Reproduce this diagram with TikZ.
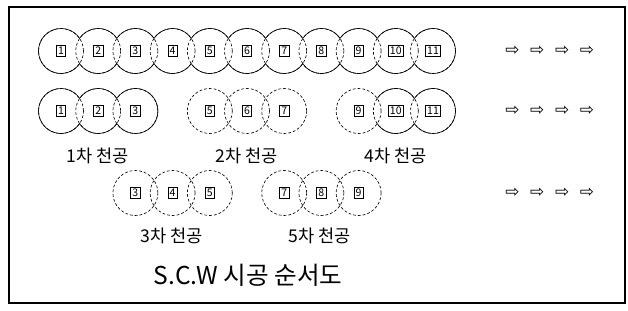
\documentclass[tikz,border=0pt]{standalone}
\usepackage{fontspec}
\newfontfamily\kr{Noto Sans CJK KR}
\newfontfamily\sym{DejaVu Sans}
\usepackage{tikz}
\usetikzlibrary{positioning,calc}

\begin{document}
\begin{tikzpicture}[x=0.025cm,y=0.025cm,font=\kr,
   pile/.style={line width=0.45pt},
   dsh/.style={line width=0.45pt,dash pattern=on 2pt off 1.4pt},
   num/.style={draw,line width=0.45pt,inner xsep=1.3pt,inner ysep=1.1pt,font=\kr\fontsize{7.5}{8}\selectfont},
   caplab/.style={font=\kr\fontsize{12.5}{14}\selectfont},
   arw/.style={font=\sym\fontsize{12}{13}\selectfont,inner sep=0pt}]
  \useasboundingbox (0,0) rectangle (628,310);
  \draw[line width=0.9pt] (9,7) rectangle (625,303);
  % row 1: all eleven piles
  \foreach \i in {1,...,11} \draw[dsh] ({61+37.2*(\i-1)},259) circle (22.5);
  \draw[pile] (61,259) ++(34:22.5) arc (34:326:22.5);
  \foreach \i in {2,...,10} {
    \draw[pile] ({61+37.2*(\i-1)},259) ++(34:22.5) arc (34:146:22.5);
    \draw[pile] ({61+37.2*(\i-1)},259) ++(214:22.5) arc (214:326:22.5);
  }
  \draw[pile] (433,259) ++(-146:22.5) arc (-146:146:22.5);
  \foreach \i in {1,...,11} \node[num] (a\i) at ({61+37.2*(\i-1)},259) {\i};
  % row 2: 1st, 2nd and 4th
  \foreach \i in {1,2,3,5,6,7,9,10,11} \draw[dsh] ({61+37.2*(\i-1)},199) circle (22.5);
  \draw[pile] (61,199) ++(34:22.5) arc (34:326:22.5);
  \foreach \i in {2,10} {
    \draw[pile] ({61+37.2*(\i-1)},199) ++(34:22.5) arc (34:146:22.5);
    \draw[pile] ({61+37.2*(\i-1)},199) ++(214:22.5) arc (214:326:22.5);
  }
  \foreach \i in {3,11} \draw[pile] ({61+37.2*(\i-1)},199) ++(-146:22.5) arc (-146:146:22.5);
  \foreach \i in {1,2,3,5,6,7,9,10,11} \node[num] (b\i) at ({61+37.2*(\i-1)},199) {\i};
  % row 3: 3rd and 5th
  \foreach \i in {3,4,5,7,8,9} {
    \draw[dsh] ({61+37.2*(\i-1)},117) circle (22.5);
    \node[num] (c\i) at ({61+37.2*(\i-1)},117) {\i};
  }
  % arrows
  \foreach \y/\r in {259/a,199/b,117/c}
    \foreach \k in {1,...,4}
      \node[arw] (\r arw\k) at ({512.5+24.8*(\k-1)},\y) {⇨};
  % labels
  \node[caplab] (lab1) at (98,154) {1차 천공};
  \node[caplab] (lab2) at (247,154) {2차 천공};
  \node[caplab] (lab4) at (396,154) {4차 천공};
  \node[caplab] (lab3) at (172,74) {3차 천공};
  \node[caplab] (lab5) at (320,74) {5차 천공};
  \node[font=\kr\fontsize{17.5}{20}\selectfont] (title) at (248,35) {S.C.W 시공 순서도};
\end{tikzpicture}
\end{document}
